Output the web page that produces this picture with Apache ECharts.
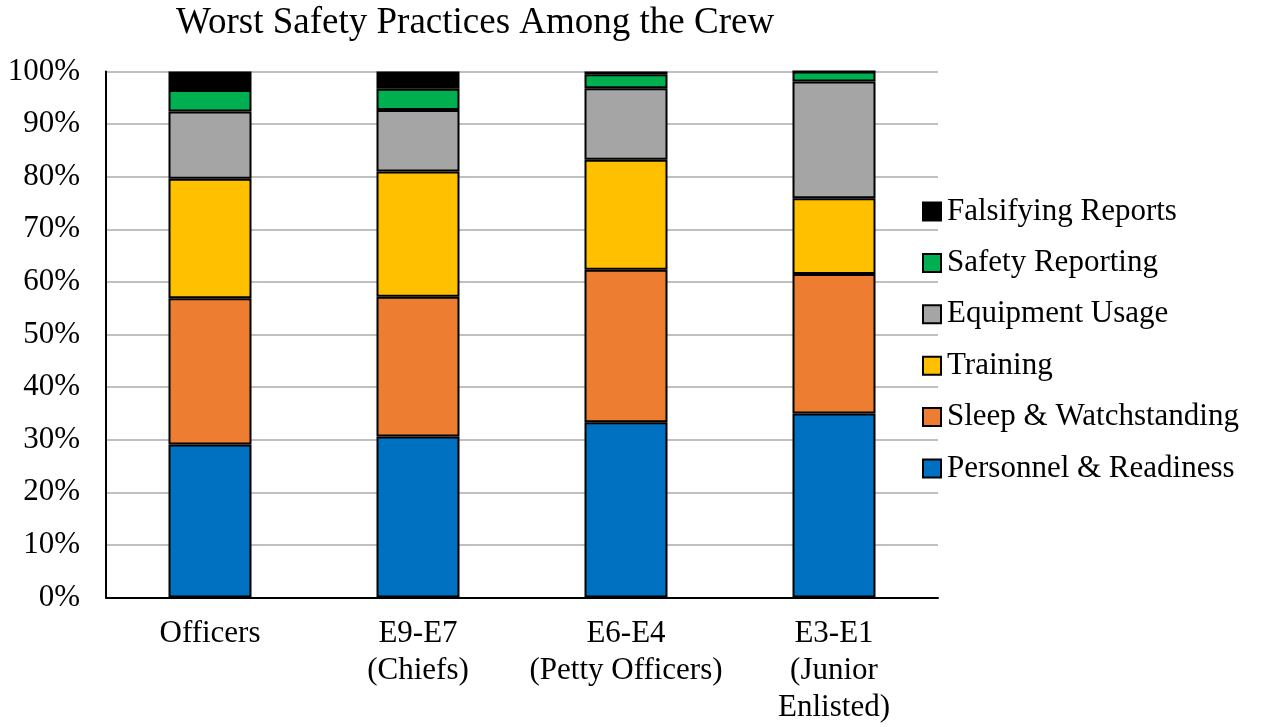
<!DOCTYPE html>
<html>
<head>
<meta charset="utf-8">
<script src="https://cdn.jsdelivr.net/npm/echarts@6/dist/echarts.min.js"></script>
<style>
  html, body { margin: 0; padding: 0; background: #fff; }
  #chart { width: 1262px; height: 727px; }
</style>
</head>
<body>
<div id="chart"></div>
<script>
// categories (x axis)
const groups = ['Officers', 'E9-E7\n(Chiefs)', 'E6-E4\n(Petty Officers)', 'E3-E1\n(Junior\nEnlisted)'];

// percent of responses per group, bottom to top
const personnel = [29.1, 30.6, 33.3, 35.0];
const sleepWatch = [27.8, 26.6, 29.0, 26.5];
const training = [22.7, 23.8, 20.9, 14.4];
const equipment = [12.8, 11.7, 13.6, 22.2];
const safetyRep = [4.1, 4.0, 2.7, 1.9];
const falsifying = [3.5, 3.3, 0.5, 0];

const seriesNames = ['Personnel & Readiness', 'Sleep & Watchstanding', 'Training', 'Equipment Usage', 'Safety Reporting', 'Falsifying Reports'];
const seriesData = [personnel, sleepWatch, training, equipment, safetyRep, falsifying];
const colors = ['#0070C0', '#ED7D31', '#FFC000', '#A5A5A5', '#00B050', '#000000'];

const font = 'Liberation Serif';

const chart = echarts.init(document.getElementById('chart'));

const option = {
  animation: false,
  title: {
    text: 'Worst Safety Practices Among the Crew',
    left: 171,
    top: 0,
    textStyle: { fontFamily: font, fontSize: 37, fontWeight: 'normal', color: '#000' }
  },
  legend: {
    orient: 'vertical',
    left: 922,
    top: 196,
    padding: 0,
    icon: 'rect',
    itemWidth: 18,
    itemHeight: 18,
    itemGap: 20.4,
    itemStyle: { borderColor: '#000', borderWidth: 2 },
    data: seriesNames.slice().reverse(),
    textStyle: { fontFamily: font, fontSize: 31, color: '#000', lineHeight: 31, padding: [0, 0, 0, 1] }
  },
  grid: { left: 106, right: 324, top: 71.5, bottom: 129.5 },
  xAxis: {
    type: 'category',
    data: groups,
    axisLine: { lineStyle: { color: '#000', width: 2 } },
    axisTick: { show: false },
    axisLabel: { interval: 0, fontFamily: font, fontSize: 31, color: '#000', lineHeight: 37, margin: 18 }
  },
  yAxis: {
    type: 'value',
    min: 0,
    max: 100,
    interval: 10,
    axisLine: { show: true, lineStyle: { color: '#000', width: 2 } },
    axisTick: { show: false },
    splitLine: { lineStyle: { color: '#C0C0C0', width: 2 } },
    axisLabel: { fontFamily: font, fontSize: 31, color: '#000', margin: 26, formatter: '{value}%' }
  },
  series: seriesNames.map((name, i) => ({
    name: name,
    type: 'bar',
    stack: 'total',
    barWidth: 83,
    data: seriesData[i],
    itemStyle: { color: colors[i], borderColor: '#000', borderWidth: 2 }
  }))
};

chart.setOption(option);
</script>
</body>
</html>
